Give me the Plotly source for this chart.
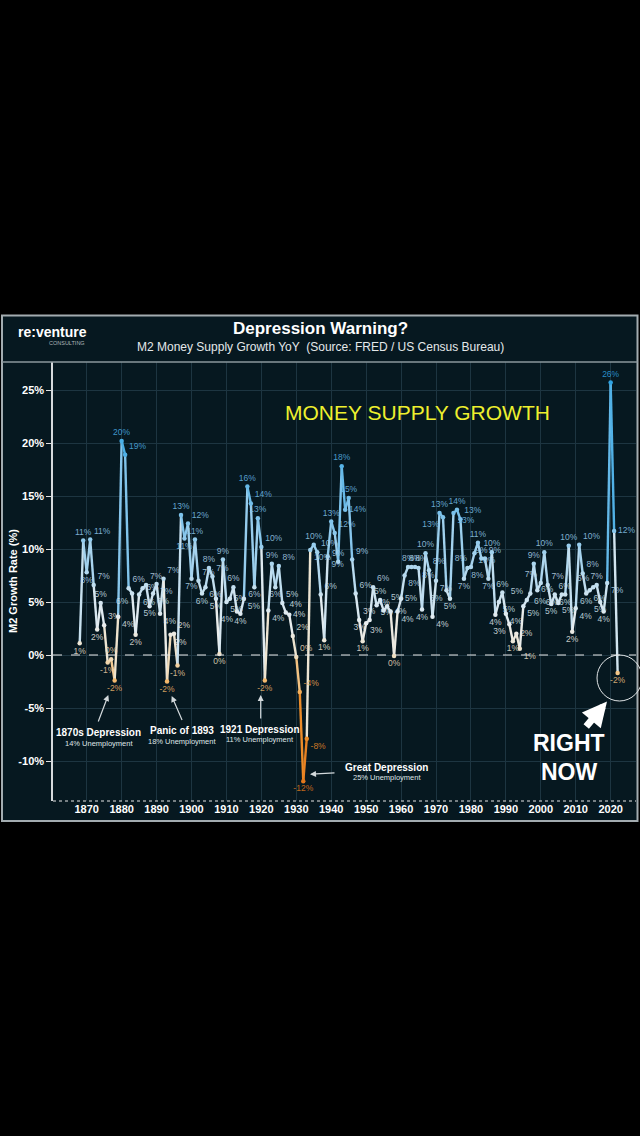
import plotly.graph_objects as go
from plotly.colors import sample_colorscale

# ---------------- data ----------------
years = list(range(1868, 2023))
growth = [
    1.1, 10.8,
    7.8, 10.9, 6.6, 2.4, 4.9, 2.8, -0.7, -0.4, -2.4, 3.6,
    20.2, 18.9, 6.3, 5.8, 1.9, 5.7, 6.3, 6.6, 4.6, 5.8,
    6.7, 3.9, 7.2, -2.5, 1.9, 2.0, -1.0, 13.2, 11.0, 12.4,
    7.2, 10.9, 7.0, 5.8, 6.4, 8.2, 7.4, 5.3, 0.1, 9.0,
    5.0, 5.3, 6.4, 4.1, 3.9, 5.3, 15.9, 14.3, 6.4, 12.9,
    10.2, -2.4, 4.2, 8.6, 6.4, 8.4, 4.9, 4.0, 3.8, 1.8,
    -0.2, -3.5, -11.9, -7.9, 9.9, 10.4, 9.7, 5.7, 1.4, 9.3,
    12.6, 11.5, 8.8, 17.8, 13.7, 14.8, 9.0, 5.8, 3.3, 1.3,
    3.0, 3.3, 6.4, 4.7, 5.2, 4.2, 4.6, 4.1, -0.1, 4.1,
    5.3, 7.5, 8.3, 8.3, 8.3, 8.2, 4.3, 9.6, 8.0, 3.6,
    7.0, 13.4, 13.0, 6.1, 5.3, 13.4, 13.7, 12.8, 7.2, 8.2,
    8.3, 9.6, 10.6, 9.1, 9.1, 7.2, 9.7, 3.8, 5.0, 5.9,
    3.9, 2.9, 1.3, 2.0, 0.6, 4.6, 5.2, 5.8, 8.6, 6.1,
    6.8, 9.7, 6.6, 4.8, 5.7, 4.9, 5.7, 5.7, 10.3, 2.2,
    4.4, 10.4, 7.7, 5.8, 6.1, 6.4, 6.6, 5.0, 4.1, 6.8,
    25.7, 11.7, -1.7,
]
x_ticks = list(range(1870, 2021, 10))
y_ticks = [-10, -5, 0, 5, 10, 15, 20, 25]
y_tick_text = [f"{v}%" for v in y_ticks]

# ---------------- layout geometry (pixels) ----------------
W, H = 640, 1136
PL, PR, PT, PB = 53, 636, 362, 801
X1870, PX_PER_YEAR = 86.7, 3.493
Y0, PX_PER_PCT = 655, 10.6
x_range = [1870 + (PL - X1870) / PX_PER_YEAR, 1870 + (PR - X1870) / PX_PER_YEAR]
y_range = [(Y0 - PB) / PX_PER_PCT, (Y0 - PT) / PX_PER_PCT]


def fx(px):
    return (px - PL) / (PR - PL)


def fy(py):
    return (PB - py) / (PB - PT)


PANEL = "#061820"
GRID = "#1d3541"
FONT = "Liberation Sans, Arial, sans-serif"

CMIN, CMAX = -12, 26
stops = [(-12, "#e3771c"), (-6, "#f0952e"), (-2.5, "#f4b86a"), (0, "#efe0c4"),
         (3, "#e9eef0"), (7, "#bcdcef"), (12, "#86c6ec"), (18, "#54b2e6"), (26, "#2ea2e2")]
cscale = [[(v - CMIN) / (CMAX - CMIN), c] for v, c in stops]


def col(v, alpha=None):
    t = min(max((v - CMIN) / (CMAX - CMIN), 0), 1)
    c = sample_colorscale(cscale, [t])[0]
    if alpha is not None:
        c = c.replace("rgb(", "rgba(").replace(")", f", {alpha})")
    return c


fig = go.Figure()

# line segments coloured by value
for i in range(len(years) - 1):
    m = (growth[i] + growth[i + 1]) / 2
    fig.add_trace(go.Scatter(
        x=[years[i], years[i + 1]], y=[growth[i], growth[i + 1]],
        mode="lines", line=dict(color=col(m), width=2.4),
        hoverinfo="skip", showlegend=False))

# ---------------- label placement (simple collision avoidance) ----------------
labels = [f"{int(round(v))}%" for v in growth]
LBL_SIZE = 8.5
LBL_H = 9.0
GAP = 3.0
CW = {"%": 0.889, "-": 0.333}


def text_w(s):
    return sum(CW.get(c, 0.556) for c in s) * LBL_SIZE


def bbox(i, pos):
    xp = X1870 + (years[i] - 1870) * PX_PER_YEAR
    yp = Y0 - growth[i] * PX_PER_PCT
    w = text_w(labels[i])
    vert, horiz = pos.split(" ")
    if horiz == "center":
        x0 = xp - w / 2
    elif horiz == "right":
        x0 = xp + GAP
    else:
        x0 = xp - GAP - w
    if vert == "top":
        y0 = yp - GAP - LBL_H
    elif vert == "bottom":
        y0 = yp + GAP
    else:
        y0 = yp - LBL_H / 2
    return (x0, y0, x0 + w, y0 + LBL_H)


def overlap(a, b):
    return not (a[2] <= b[0] or b[2] <= a[0] or a[3] <= b[1] or b[3] <= a[1])


ALL = ["top center", "bottom center", "top right", "top left", "bottom right",
       "bottom left", "middle right", "middle left"]
positions = []
placed = []
n = len(growth)
for i, v in enumerate(growth):
    p = growth[i - 1] if i > 0 else None
    q = growth[i + 1] if i < n - 1 else None
    if p is None:
        prefs = ["bottom center", "middle left", "top center"]
    elif q is None:
        prefs = ["bottom center", "middle left", "bottom left"]
    elif v >= p and v >= q:
        prefs = ["top center", "top right", "top left", "middle right", "middle left"]
    elif v <= p and v <= q:
        prefs = ["bottom center", "bottom right", "bottom left", "middle right", "middle left"]
    elif p < v < q:
        prefs = ["bottom right", "top left", "middle right", "middle left", "bottom center"]
    else:
        prefs = ["middle right", "top right", "bottom left", "middle left", "top center"] \
            if i == n - 2 else ["top right", "bottom left", "middle right", "middle left", "top center"]
    prefs = prefs + [c for c in ALL if c not in prefs]
    chosen = prefs[0]
    for cand in prefs:
        b = bbox(i, cand)
        if b[2] > PR + 1:
            continue
        if all(not overlap(b, o) for o in placed):
            chosen = cand
            break
    positions.append(chosen)
    placed.append(bbox(i, chosen))

fig.add_trace(go.Scatter(
    x=years, y=growth, mode="markers+text",
    marker=dict(size=4.5, color=[col(v) for v in growth]),
    text=labels, textposition=positions,
    textfont=dict(size=LBL_SIZE, family=FONT, color=[col(v, 0.85) for v in growth]),
    hoverinfo="skip", showlegend=False, cliponaxis=False))

shapes = [
    dict(type="rect", xref="paper", yref="paper", x0=fx(2), x1=fx(637.5), y0=fy(821), y1=fy(315.5),
         line=dict(color="#a3acb0", width=2), fillcolor=PANEL, layer="below"),
    dict(type="line", xref="paper", yref="paper", x0=fx(2), x1=fx(637.5), y0=fy(362), y1=fy(362),
         line=dict(color="#8b979c", width=1.5)),
    dict(type="line", xref="paper", yref="y", x0=0, x1=1, y0=0, y1=0,
         line=dict(color="#e6e6e6", width=1, dash="dash")),
    dict(type="line", xref="paper", yref="paper", x0=0, x1=1, y0=0, y1=0,
         line=dict(color="#e6e6e6", width=1.2, dash="dot")),
    dict(type="circle", xref="paper", yref="paper", x0=fx(597), x1=fx(642), y0=fy(701), y1=fy(655),
         line=dict(color="#e0e4e6", width=1)),
]


def txt(text, x, y, size, color="white", bold=False, **kw):
    return dict(text=f"<b>{text}</b>" if bold else text, xref="paper", yref="paper",
                x=fx(x), y=fy(y), showarrow=False, xanchor=kw.pop("xanchor", "center"),
                yanchor="middle", font=dict(family=FONT, size=size, color=color), **kw)


def arrow(hx, hy, tx, ty, width=1.2, size=1.0, color="#d3d9dc", head=2):
    return dict(text="", xref="paper", yref="paper", x=fx(hx), y=fy(hy),
                ax=tx - hx, ay=ty - hy, showarrow=True, arrowhead=head,
                arrowsize=size, arrowwidth=width, arrowcolor=color)


annotations = [
    txt("Depression Warning?", 320, 328, 17, bold=True),
    txt("M2 Money Supply Growth YoY  (Source: FRED / US Census Bureau)", 320, 347, 12, color="#e4e8ea"),
    txt("re:venture", 52, 332, 14, bold=True),
    txt("CONSULTING", 87, 343, 5.5, color="#aab4b8", xanchor="right"),
    txt("MONEY SUPPLY GROWTH", 417, 412, 21, color="#eef02e"),
    dict(text="<b>M2 Growth Rate (%)</b>", xref="paper", yref="paper", x=fx(13), y=fy(581),
         textangle=-90, showarrow=False, xanchor="center", yanchor="middle",
         font=dict(family=FONT, size=11, color="white")),
    txt("1870s Depression", 98.5, 732.7, 10, bold=True),
    txt("14% Unemployment", 98.5, 743.3, 7.5, color="#dfe4e6"),
    txt("Panic of 1893", 182.3, 730.7, 10, bold=True),
    txt("18% Unemployment", 182.3, 741, 7.5, color="#dfe4e6"),
    txt("1921 Depression", 260, 729.3, 10, bold=True),
    txt("11% Unemployment", 260, 739.3, 7.5, color="#dfe4e6"),
    txt("Great Depression", 386.7, 767.7, 10, bold=True),
    txt("25% Unemployment", 386.7, 777.7, 7.5, color="#dfe4e6"),
    arrow(108.3, 695, 97.7, 723),
    arrow(171.7, 696, 182.7, 721.5),
    arrow(260.7, 695, 260.7, 720),
    arrow(310, 774.3, 336, 772.7),
    txt("RIGHT", 569, 743, 23, bold=True),
    txt("NOW", 569, 772, 23, bold=True),
    arrow(607, 701.5, 585, 728, width=7, size=0.7, color="white"),
]

fig.update_layout(
    width=W, height=H, autosize=False,
    margin=dict(l=PL, r=W - PR, t=PT, b=H - PB, pad=0),
    paper_bgcolor="black", plot_bgcolor=PANEL,
    font=dict(family=FONT, color="white"),
    shapes=shapes, annotations=annotations,
    showlegend=False,
    xaxis=dict(range=x_range, tickvals=x_ticks, ticks="", showgrid=True, gridcolor=GRID,
               gridwidth=1, zeroline=False, showline=False,
               tickfont=dict(family=FONT, size=11, color="white", weight="bold")),
    yaxis=dict(range=y_range, tickvals=y_ticks, ticktext=y_tick_text, ticks="outside",
               ticklen=5, tickcolor="#e0e0e0", showgrid=True, gridcolor=GRID, gridwidth=1,
               zeroline=False, showline=True, linecolor="#d6dadc", linewidth=1.5,
               tickfont=dict(family=FONT, size=11, color="white", weight="bold")),
)

fig.write_html("out.html", config={"displayModeBar": False},
               post_script="document.body.style.margin='0';document.body.style.background='black';")
